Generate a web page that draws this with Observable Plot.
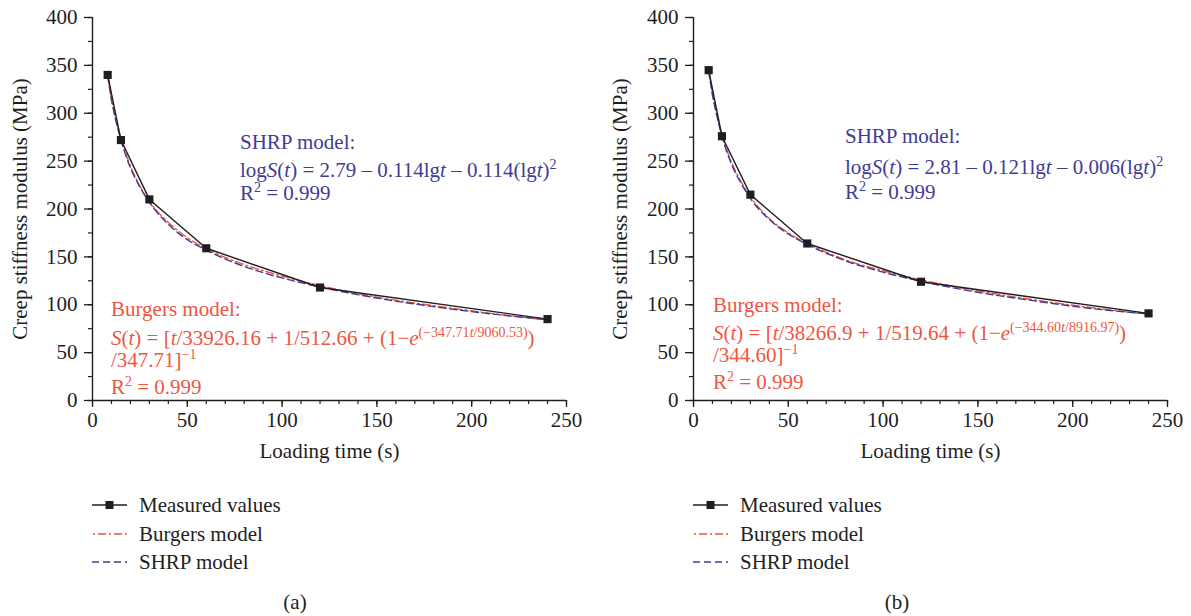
<!DOCTYPE html>
<html>
<head>
<meta charset="utf-8">
<script src="https://cdn.jsdelivr.net/npm/d3@7"></script>
<script src="https://cdn.jsdelivr.net/npm/@observablehq/plot@0.6"></script>
<style>
  html, body { margin: 0; padding: 0; background: #fff; overflow: hidden; }
  #root { position: relative; width: 1191px; height: 616px; }
  .panel { position: absolute; top: 0; height: 616px; }
  .legend-row { position: absolute; height: 24px; }
  .legend-row svg { position: absolute; top: 0; }
  .legend-row span { position: absolute; top: 0; line-height: 24px; white-space: nowrap; }
  .caption { position: absolute; line-height: 24px; transform: translateX(-50%); }
  .txt { font-family: "Liberation Serif", "DejaVu Serif", serif; font-size: 21px; color: #222; }
</style>
</head>
<body>
<div id="root"></div>
<script>
// ---------- data ----------
const times = [8, 15, 30, 60, 120, 240];
const measuredA = [340, 272, 210, 159, 118, 85];
const measuredB = [345, 276, 215, 164, 124, 91];

const modelTimes = [8, 10, 12, 15, 20, 25, 30, 40, 50, 60, 80, 100, 120, 150, 180, 210, 240];
const burgersA = [339, 316, 297, 274, 245, 224, 208, 186, 170, 158.5, 142, 130, 120, 108, 99, 91, 84];
const shrpA    = [340, 314, 295, 272, 243, 223, 207, 184, 168, 157, 140, 128, 118.5, 107, 98, 90.5, 84.5];
const burgersB = [344, 321, 302, 278, 249, 229, 213, 190, 175, 164, 147, 135.5, 126, 114.5, 105, 97, 90];
const shrpB    = [345, 319, 300, 276, 247, 227, 211, 189, 174, 163, 146, 134, 124.5, 113, 104, 96, 90.5];

const xTicks = [0, 50, 100, 150, 200, 250];
const xMinor = d3.range(0, 251, 10);
const yTicks = [0, 50, 100, 150, 200, 250, 300, 350, 400];
const yMinor = d3.range(0, 401, 25);

const legendLabels = ["Measured values", "Burgers model", "SHRP model"];
const captions = ["(a)", "(b)"];
const xTitle = "Loading time (s)";
const yTitle = "Creep stiffness modulus (MPa)";

// annotation text: segments [text, style]  (i = italic, sup = superscript, supi = italic superscript)
const annA = {
  shrp: [
    [["SHRP model:", ""]],
    [["log", ""], ["S", "i"], ["(", ""], ["t", "i"], [") = 2.79 – 0.114lg", ""], ["t", "i"], [" – 0.114(lg", ""], ["t", "i"], [")", ""], ["2", "sup"]],
    [["R", ""], ["2", "sup"], [" = 0.999", ""]]
  ],
  burgers: [
    [["Burgers model:", ""]],
    [["S", "i"], ["(", ""], ["t", "i"], [") = [", ""], ["t", "i"], ["/33926.16 + 1/512.66 + (1−", ""], ["e", "i"], ["(−347.71", "sup"], ["t", "supi"], ["/9060.53)", "sup"], [")", ""]],
    [["/347.71]", ""], ["−1", "sup"]],
    [["R", ""], ["2", "sup"], [" = 0.999", ""]]
  ]
};
const annB = {
  shrp: [
    [["SHRP model:", ""]],
    [["log", ""], ["S", "i"], ["(", ""], ["t", "i"], [") = 2.81 – 0.121lg", ""], ["t", "i"], [" – 0.006(lg", ""], ["t", "i"], [")", ""], ["2", "sup"]],
    [["R", ""], ["2", "sup"], [" = 0.999", ""]]
  ],
  burgers: [
    [["Burgers model:", ""]],
    [["S", "i"], ["(", ""], ["t", "i"], [") = [", ""], ["t", "i"], ["/38266.9 + 1/519.64 + (1−", ""], ["e", "i"], ["(−344.60", "sup"], ["t", "supi"], ["/8916.97)", "sup"], [")", ""]],
    [["/344.60]", ""], ["−1", "sup"]],
    [["R", ""], ["2", "sup"], [" = 0.999", ""]]
  ]
};

// ---------- styles ----------
const FONT = '"Liberation Serif", "DejaVu Serif", serif';
const FS = 21;
const INK = "#1e1e1e";
const RED = "#f0543f";
const BLUE = "#3f3c98";
const RED_TEXT = "#f0553f";
const BLUE_TEXT = "#3f3c96";

function makePanel(opts) {
  const {left, width, marginLeft, measured, burgers, shrp, ann, layout, caption, legendX, captionX} = opts;
  const meas = times.map((t, i) => ({t, v: measured[i]}));
  const bur = modelTimes.map((t, i) => ({t, v: burgers[i]}));
  const shr = modelTimes.map((t, i) => ({t, v: shrp[i]}));
  const plotW = 474;
  const plot = Plot.plot({
    width, height: 475,
    marginLeft, marginRight: width - marginLeft - plotW, marginTop: 17, marginBottom: 75,
    style: {fontFamily: FONT, fontSize: FS + "px", color: INK, background: "transparent", overflow: "visible"},
    x: {domain: [0, 250], label: null},
    y: {domain: [0, 400], label: null},
    marks: [
      Plot.axisX({ticks: xMinor, tickSize: 4, tickFormat: () => "", label: null, strokeWidth: 1.2}),
      Plot.axisX({ticks: xTicks, tickSize: 7, tickPadding: 5, label: null, strokeWidth: 1.3, fontSize: FS}),
      Plot.axisY({ticks: yMinor, tickSize: 4, tickFormat: () => "", label: null, strokeWidth: 1.2}),
      Plot.axisY({ticks: yTicks, tickSize: 8, tickPadding: 7, label: null, strokeWidth: 1.3, fontSize: FS}),
      Plot.ruleX([0], {stroke: INK, strokeWidth: 1.4}),
      Plot.ruleY([0], {stroke: INK, strokeWidth: 1.4}),
      Plot.text([xTitle], {frameAnchor: "bottom", dy: 57, text: d => d, fill: INK, fontSize: FS}),
      Plot.text([yTitle], {frameAnchor: "left", textAnchor: "middle", rotate: -90, dx: -(marginLeft - 20), text: d => d, fill: INK, fontSize: FS}),
      Plot.line(bur, {x: "t", y: "v", stroke: RED, strokeWidth: 1.4, strokeDasharray: "8,3,2,3", curve: "monotone-x"}),
      Plot.line(shr, {x: "t", y: "v", stroke: BLUE, strokeWidth: 1.4, strokeDasharray: "7,4", curve: "monotone-x"}),
      Plot.line(meas, {x: "t", y: "v", stroke: INK, strokeWidth: 1.4}),
      Plot.dot(meas, {x: "t", y: "v", symbol: "square", r: 4.6, fill: INK, stroke: "none"})
    ]
  });

  // rich-text annotations
  const svg = d3.select(plot);
  function drawBlock(lines, x, baselines, color) {
    lines.forEach((segs, li) => {
      const text = svg.append("text")
        .attr("x", x).attr("y", baselines[li])
        .attr("fill", color)
        .attr("text-anchor", "start")
        .style("font-family", FONT).style("font-size", FS + "px");
      let raised = false;
      segs.forEach(([s, st]) => {
        const sup = st === "sup" || st === "supi";
        const ts = text.append("tspan").text(s);
        if (st === "i" || st === "supi") ts.style("font-style", "italic");
        if (sup) {
          ts.style("font-size", "14px");
          if (!raised) { ts.attr("dy", -8); raised = true; }
        } else if (raised) {
          ts.attr("dy", 8); raised = false;
        }
      });
    });
  }
  drawBlock(ann.shrp, layout.shrpX, layout.shrpY, BLUE_TEXT);
  drawBlock(ann.burgers, layout.burX, layout.burY, RED_TEXT);

  const panel = document.createElement("div");
  panel.className = "panel";
  panel.style.left = left + "px";
  panel.style.width = width + "px";
  panel.appendChild(plot);
  plot.style.position = "absolute";
  plot.style.left = "0px";
  plot.style.top = "0px";

  // legend
  const rowY = [505, 534, 562];
  legendLabels.forEach((lab, i) => {
    const row = document.createElement("div");
    row.className = "legend-row txt";
    row.style.left = legendX + "px";
    row.style.top = (rowY[i] - 12) + "px";
    row.style.width = "300px";
    const s = d3.create("svg").attr("width", 36).attr("height", 24);
    const ln = s.append("line").attr("x1", 0).attr("x2", 35).attr("y1", 12).attr("y2", 12)
      .attr("stroke-width", 1.4);
    if (i === 0) {
      ln.attr("stroke", INK);
      s.append("rect").attr("x", 13.5).attr("y", 8).attr("width", 8).attr("height", 8).attr("fill", INK);
    } else if (i === 1) {
      ln.attr("stroke", RED).attr("stroke-dasharray", "8,3,2,3").attr("stroke-dashoffset", 10);
    } else {
      ln.attr("stroke", BLUE).attr("stroke-dasharray", "7,4");
    }
    row.appendChild(s.node());
    const sp = document.createElement("span");
    sp.textContent = lab;
    sp.style.left = "47px";
    row.appendChild(sp);
    panel.appendChild(row);
  });

  const cap = document.createElement("div");
  cap.className = "caption txt";
  cap.textContent = caption;
  cap.style.left = captionX + "px";
  cap.style.top = (602 - 12) + "px";
  panel.appendChild(cap);

  document.getElementById("root").appendChild(panel);
}

makePanel({
  left: 0, width: 600, marginLeft: 92,
  measured: measuredA, burgers: burgersA, shrp: shrpA, ann: annA,
  layout: {shrpX: 240, shrpY: [149, 177, 200], burX: 111, burY: [316, 345, 367, 394]},
  caption: captions[0], legendX: 92, captionX: 295
});
makePanel({
  left: 600, width: 591, marginLeft: 93,
  measured: measuredB, burgers: burgersB, shrp: shrpB, ann: annB,
  layout: {shrpX: 245, shrpY: [143, 174, 199], burX: 113, burY: [312, 340, 362, 389]},
  caption: captions[1], legendX: 93, captionX: 297
});
</script>
</body>
</html>
